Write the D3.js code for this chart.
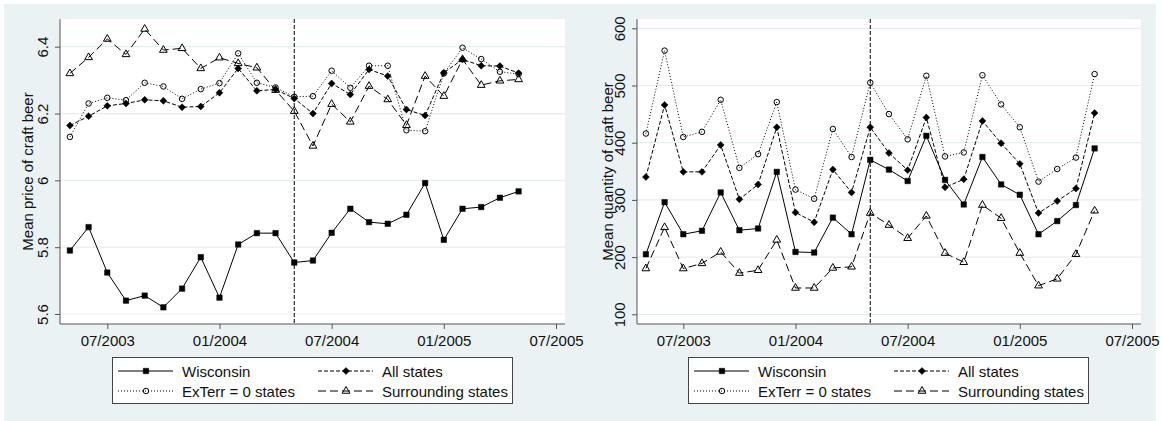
<!DOCTYPE html>
<html>
<head>
<meta charset="utf-8">
<script src="https://cdn.jsdelivr.net/npm/d3@7"></script>
<style>
    body { margin: 0; background: #fff; }
    svg { display: block; font-family: Arial, "Liberation Sans", sans-serif; font-stretch: normal; }
    svg text { font-family: Arial, "Liberation Sans", sans-serif; font-stretch: normal; }
</style>
</head>
<body>
<svg id="chart"></svg>
<script>
(function () {

    // ---- data ----
    var months = ["05/2003", "06/2003", "07/2003", "08/2003", "09/2003", "10/2003", "11/2003", "12/2003",
        "01/2004", "02/2004", "03/2004", "04/2004", "05/2004", "06/2004", "07/2004", "08/2004",
        "09/2004", "10/2004", "11/2004", "12/2004", "01/2005", "02/2005", "03/2005", "04/2005", "05/2005"];
    var xTickLabels = ["07/2003", "01/2004", "07/2004", "01/2005", "07/2005"];
    var xEndLabel = "07/2005";
    var policyMonth = "05/2004";

    var seriesNames = ["Wisconsin", "All states", "ExTerr = 0 states", "Surrounding states"];

    var priceTicks = [5.6, 5.8, 6, 6.2, 6.4];
    var priceWisconsin = [5.790, 5.860, 5.724, 5.640, 5.655, 5.620, 5.676, 5.770, 5.649, 5.808, 5.842, 5.842,
        5.754, 5.760, 5.843, 5.915, 5.875, 5.870, 5.897, 5.992, 5.822, 5.915, 5.920, 5.948, 5.967];
    var priceAll = [6.164, 6.192, 6.223, 6.230, 6.241, 6.238, 6.219, 6.221, 6.262, 6.335, 6.268, 6.272,
        6.245, 6.200, 6.290, 6.257, 6.332, 6.312, 6.212, 6.194, 6.322, 6.362, 6.343, 6.342, 6.321];
    var priceExTerr = [6.130, 6.230, 6.247, 6.240, 6.292, 6.281, 6.244, 6.273, 6.291, 6.380, 6.292, 6.278,
        6.250, 6.252, 6.328, 6.277, 6.343, 6.343, 6.150, 6.147, 6.320, 6.397, 6.363, 6.325, 6.318];
    var priceSurround = [6.320, 6.368, 6.423, 6.377, 6.453, 6.390, 6.395, 6.335, 6.367, 6.350, 6.337, 6.270,
        6.207, 6.103, 6.228, 6.175, 6.282, 6.242, 6.165, 6.312, 6.252, 6.362, 6.285, 6.298, 6.302];

    var qtyTicks = [100, 200, 300, 400, 500, 600];
    var qtyWisconsin = [205, 296, 240, 246, 313, 247, 250, 349, 209, 208, 269, 240,
        370, 353, 333, 412, 335, 292, 375, 327, 309, 240, 263, 291, 390];
    var qtyAll = [340, 466, 349, 349, 396, 301, 327, 427, 278, 261, 353, 313,
        427, 382, 352, 444, 322, 336, 438, 399, 363, 277, 298, 320, 452];
    var qtyExTerr = [416, 561, 410, 419, 475, 356, 380, 471, 318, 302, 424, 375,
        505, 450, 406, 517, 376, 383, 518, 467, 427, 332, 354, 374, 520];
    var qtySurround = [180, 252, 180, 189, 209, 172, 177, 230, 146, 146, 181, 183,
        277, 256, 233, 272, 207, 191, 291, 268, 207, 150, 162, 205, 281];

    // ---- layout ----
    var width = 1162;
    var height = 421;
    var plotTop = 19;
    var plotBottom = 324;
    var bgColor = "#eaf2f3";
    var axisColor = "#555";
    var fontSize = 15;
    var fontFamily = "Arial, 'Liberation Sans', sans-serif";

    var styles = [
        { dash: null, symbol: d3.symbolSquare, size: 30, rotate: 0, fill: "#000" },
        { dash: "4,2", symbol: d3.symbolSquare, size: 24, rotate: 45, fill: "#000" },
        { dash: "1,2", symbol: d3.symbolCircle, size: 24, rotate: 0, fill: "none" },
        { dash: "8,4", symbol: d3.symbolTriangle, size: 26, rotate: 0, fill: "none" }
    ];

    function monthIndex(s) {
        var p = s.split("/");
        return (+p[1]) * 12 + (+p[0]) - 1;
    }

    var svg = d3.select("#chart")
        .attr("width", width)
        .attr("height", height);

    svg.append("rect")
        .attr("x", 4)
        .attr("y", 4)
        .attr("width", width - 10)
        .attr("height", height - 4)
        .attr("fill", bgColor);

    drawPanel({
        left: 60, right: 565, x0: 69.9, xEnd: 556,
        yDomain: [5.6, 6.4], yRange: [314, 46.7], yTicks: priceTicks,
        yFormat: d3.format(".1~f"),
        title: "Mean price of craft beer", titleX: 32.5,
        legendX: 112,
        series: [priceWisconsin, priceAll, priceExTerr, priceSurround]
    });
    drawPanel({
        left: 637, right: 1141, x0: 645.9, xEnd: 1132,
        yDomain: [100, 600], yRange: [314.3, 28.3], yTicks: qtyTicks,
        yFormat: d3.format("d"),
        title: "Mean quantity of craft beer", titleX: 612.5,
        legendX: 688,
        series: [qtyWisconsin, qtyAll, qtyExTerr, qtySurround]
    });

    function marker(sel, st, cx, cy) {
        sel.append("path")
            .attr("d", d3.symbol().type(st.symbol).size(st.size))
            .attr("transform", "translate(" + cx + "," + cy + ") rotate(" + st.rotate + ")")
            .attr("fill", st.fill)
            .attr("stroke", "#000")
            .attr("stroke-width", st.fill === "none" ? 1 : 0.5);
    }

    function textStyle(sel) {
        sel.attr("fill", "#111")
            .style("font-size", fontSize + "px")
            .style("font-family", fontFamily)
            .style("font-stretch", "normal");
    }

    function drawPanel(p) {
        var x = d3.scaleLinear()
            .domain([monthIndex(months[0]), monthIndex(xEndLabel)])
            .range([p.x0, p.xEnd]);
        var y = d3.scaleLinear()
            .domain(p.yDomain)
            .range(p.yRange);

        var g = svg.append("g");

        g.append("rect")
            .attr("x", p.left)
            .attr("y", plotTop)
            .attr("width", p.right - p.left)
            .attr("height", plotBottom - plotTop)
            .attr("fill", "#fff");

        g.selectAll("line.grid")
            .data(p.yTicks)
            .enter()
            .append("line")
            .attr("class", "grid")
            .attr("x1", p.left)
            .attr("x2", p.right)
            .attr("y1", d => y(d))
            .attr("y2", d => y(d))
            .attr("stroke", "#e4eef0")
            .attr("stroke-width", 1.2);

        // policy month
        g.append("line")
            .attr("x1", x(monthIndex(policyMonth)))
            .attr("x2", x(monthIndex(policyMonth)))
            .attr("y1", plotTop)
            .attr("y2", plotBottom)
            .attr("stroke", "#000")
            .attr("stroke-width", 1)
            .attr("stroke-dasharray", "4,2");

        var line = d3.line()
            .x((d, i) => x(monthIndex(months[i])))
            .y(d => y(d));

        p.series.forEach(function (vals, k) {
            var st = styles[k];
            g.append("path")
                .attr("d", line(vals))
                .attr("fill", "none")
                .attr("stroke", "#000")
                .attr("stroke-width", 1)
                .attr("stroke-dasharray", st.dash);
            vals.forEach(function (v, i) {
                marker(g, st, x(monthIndex(months[i])), y(v));
            });
        });

        // axes
        var yAxis = d3.axisLeft(y)
            .tickValues(p.yTicks)
            .tickSize(5)
            .tickSizeOuter(0)
            .tickFormat(p.yFormat);
        var yG = g.append("g")
            .attr("transform", "translate(" + p.left + ",0)")
            .call(yAxis)
            .attr("font-family", null)
            .attr("font-size", null);
        yG.select(".domain").remove();
        yG.selectAll(".tick line").attr("stroke", axisColor);
        yG.selectAll(".tick text")
            .attr("x", 0)
            .attr("y", -11.7)
            .attr("dy", 0)
            .attr("text-anchor", "middle")
            .attr("transform", "rotate(-90)")
            .call(textStyle);

        var xAxis = d3.axisBottom(x)
            .tickValues(xTickLabels.map(monthIndex))
            .tickSize(5)
            .tickSizeOuter(0)
            .tickFormat((d, i) => xTickLabels[i]);
        var xG = g.append("g")
            .attr("transform", "translate(0," + plotBottom + ")")
            .call(xAxis)
            .attr("font-family", null)
            .attr("font-size", null);
        xG.select(".domain").remove();
        xG.selectAll(".tick line").attr("stroke", axisColor);
        xG.selectAll(".tick text")
            .attr("y", 11)
            .call(textStyle);

        g.append("line")
            .attr("x1", p.left).attr("x2", p.left)
            .attr("y1", plotTop).attr("y2", plotBottom)
            .attr("stroke", axisColor);
        g.append("line")
            .attr("x1", p.left).attr("x2", p.right)
            .attr("y1", plotBottom).attr("y2", plotBottom)
            .attr("stroke", axisColor);

        g.append("text")
            .attr("transform", "translate(" + p.titleX + "," + ((plotTop + plotBottom) / 2) + ") rotate(-90)")
            .attr("text-anchor", "middle")
            .call(textStyle)
            .text(p.title);

        // legend
        var lg = g.append("g")
            .attr("transform", "translate(" + p.legendX + ",357)");
        lg.append("rect")
            .attr("x", 0.5)
            .attr("y", 0.5)
            .attr("width", 400)
            .attr("height", 46)
            .attr("fill", "#fff")
            .attr("stroke", "#444");
        seriesNames.forEach(function (name, k) {
            var col = k % 2;
            var row = Math.floor(k / 2);
            var ox = col * 200;
            var cy = 14 + row * 20;
            lg.append("line")
                .attr("x1", ox + 6)
                .attr("x2", ox + 61)
                .attr("y1", cy)
                .attr("y2", cy)
                .attr("stroke", "#000")
                .attr("stroke-dasharray", styles[k].dash);
            marker(lg, styles[k], ox + 34, cy);
            lg.append("text")
                .attr("x", ox + 70)
                .attr("y", cy + 5.5)
                .call(textStyle)
                .text(name);
        });
    }

})();
</script>
</body>
</html>
